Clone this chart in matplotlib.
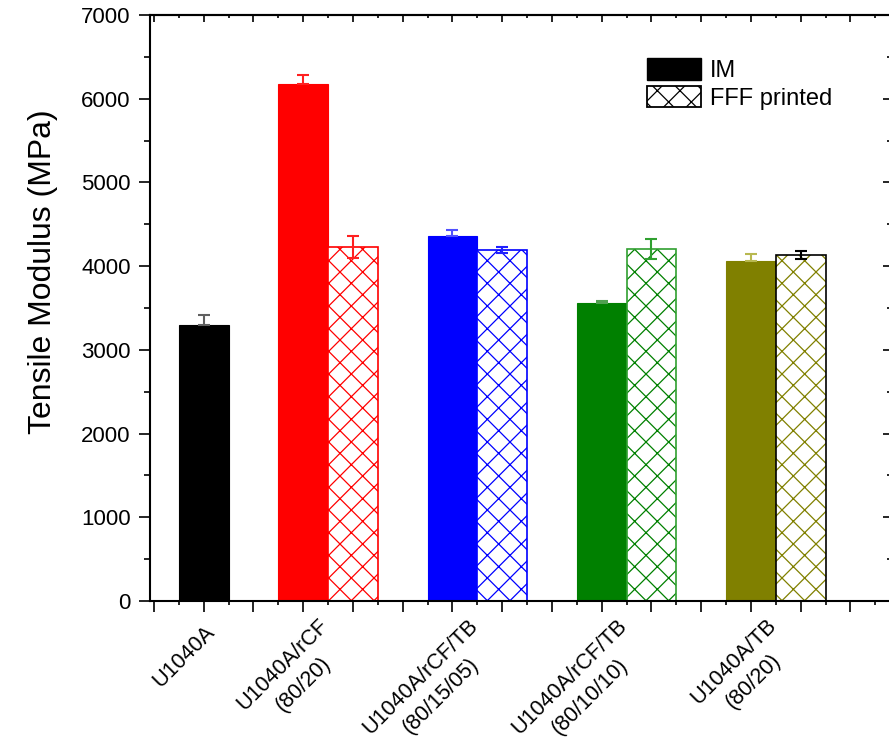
import matplotlib
matplotlib.use("Agg")
import matplotlib.pyplot as plt
import matplotlib.transforms as mtransforms
from matplotlib.patches import Patch
from matplotlib.font_manager import FontProperties
import numpy as np

# low dpi so the hatch pattern comes out as fine as in the original;
# every size below is given for 100 dpi and scaled by K
DPI = 68
K = 100 / DPI

plt.rcParams['font.family'] = ['Liberation Sans', 'DejaVu Sans']
plt.rcParams['hatch.linewidth'] = 0.9 * K

# data
groups = ['U1040A', 'U1040A/rCF\n(80/20)', 'U1040A/rCF/TB\n(80/15/05)',
          'U1040A/rCF/TB\n(80/10/10)', 'U1040A/TB\n(80/20)']
im_vals = [3300, 6175, 4355, 3560, 4065]
im_err = [115, 105, 75, 25, 85]
fff_vals = [np.nan, 4230, 4195, 4205, 4135]
fff_err = [np.nan, 130, 35, 120, 45]

colors = ['#000000', '#ff0000', '#0000ff', '#008000', '#808000']
im_err_colors = ['#606060', '#ff2020', '#5050ff', '#50a050', '#b8b850']
fff_err_colors = ['k', '#ff2020', '#2020ff', '#30a030', '#000000']
fff_edge = ['k', '#ff0000', '#0000ff', '#30a030', '#000000']

centers = [2, 7, 13, 19, 25]
bw = 2.0

fig = plt.figure(figsize=(889 / DPI, 744 / DPI), dpi=DPI)
ax = fig.add_axes([150 / 889, 1 - 601 / 744, 740.2 / 889, 586 / 744])

for i, c in enumerate(centers):
    x_im = c if i == 0 else c - 1
    ax.bar(x_im, im_vals[i], width=bw, color=colors[i], edgecolor=colors[i],
           linewidth=0.8 * K, zorder=2)
    ax.errorbar(x_im, im_vals[i], yerr=[[0], [im_err[i]]], fmt='none',
                ecolor=im_err_colors[i], elinewidth=1.5 * K, capsize=4 * K,
                capthick=1.5 * K, zorder=3)
    if not np.isnan(fff_vals[i]):
        x_f = c + 1
        ax.bar(x_f, fff_vals[i], width=bw, color='white', edgecolor=colors[i],
               hatch='x', linewidth=0, zorder=2)
        ax.bar(x_f, fff_vals[i], width=bw, fill=False, edgecolor=fff_edge[i],
               linewidth=1.2 * K, zorder=2)
        ax.errorbar(x_f, fff_vals[i], yerr=fff_err[i], fmt='none',
                    ecolor=fff_err_colors[i], elinewidth=1.5 * K, capsize=4 * K,
                    capthick=1.5 * K, zorder=3)

ax.set_xlim(-0.16, 29.6)
ax.set_ylim(0, 7000)

for s in ax.spines.values():
    s.set_linewidth(1.5 * K)

ax.set_yticks(np.arange(0, 7001, 1000))
ax.set_yticks(np.arange(500, 7000, 1000), minor=True)
ax.set_xticks(np.arange(0, 30, 2))
ax.set_xticks(np.arange(1, 30, 2), minor=True)
ax.set_xticklabels([])
ax.tick_params(axis='y', which='major', direction='out', length=8 * K,
               width=1.2 * K, labelsize=16 * K, pad=6 * K)
ax.tick_params(axis='y', which='minor', direction='out', length=4 * K,
               width=1.2 * K)
ax.tick_params(axis='x', which='major', direction='out', length=8 * K,
               width=1.2 * K)
ax.tick_params(axis='x', which='minor', direction='out', length=3 * K,
               width=1.2 * K)

top = ax.secondary_xaxis('top')
top.set_xticks(np.arange(0, 30, 2))
top.set_xticks(np.arange(1, 30, 2), minor=True)
top.set_xticklabels([])
top.tick_params(which='major', direction='in', length=5 * K, width=1.2 * K)
top.tick_params(which='minor', direction='in', length=2.5 * K, width=1.2 * K)
top.spines['top'].set_linewidth(1.5 * K)

right = ax.secondary_yaxis('right')
right.set_yticks(np.arange(0, 7001, 1000))
right.set_yticks(np.arange(500, 7000, 1000), minor=True)
right.set_yticklabels([])
right.tick_params(which='major', direction='in', length=5 * K, width=1.2 * K)
right.tick_params(which='minor', direction='in', length=2.5 * K, width=1.2 * K)

# category labels, rotated 45 deg; each line is its own text so that the
# second line can be centred under the first one
lab_size = 15.5 * K
prop = FontProperties(family=['Liberation Sans'], size=lab_size)
renderer = fig.canvas.get_renderer()
lh = 1.3 * lab_size * DPI / 72
d = np.array([np.cos(np.pi / 4), np.sin(np.pi / 4)])    # along text
dn = np.array([np.sin(np.pi / 4), -np.cos(np.pi / 4)])  # next line
trans = mtransforms.blended_transform_factory(ax.transData, ax.transAxes)
for c, lab in zip(centers, groups):
    lines = lab.split('\n')
    extra = len(lines) - 1
    base = np.array([0 - 10 * extra, -(21 - 7 * extra)], dtype=float)
    w0 = renderer.get_text_width_height_descent(lines[0], prop, ismath=False)[0]
    for k, line in enumerate(lines):
        wk = renderer.get_text_width_height_descent(line, prop, ismath=False)[0]
        pos = base - (w0 - wk) / 2 * d + k * lh * dn
        off = mtransforms.ScaledTranslation(pos[0] / DPI, pos[1] / DPI,
                                            fig.dpi_scale_trans)
        ax.text(c, 0, line, transform=trans + off, rotation=45, ha='right',
                va='top', rotation_mode='anchor', fontsize=lab_size)

ax.set_ylabel('Tensile Modulus (MPa)', fontsize=23 * K)
ax.yaxis.set_label_coords(-0.124, 0.562)

handles = [Patch(facecolor='black', edgecolor='black', linewidth=1 * K),
           Patch(facecolor='white', edgecolor='black', hatch='x',
                 linewidth=1.3 * K)]
ax.legend(handles, ['IM', 'FFF printed'], loc='upper left',
          bbox_to_anchor=((647 - 150) / 740.2, (601 - 58) / 586),
          frameon=False, fontsize=17 * K, handlelength=2.3, handleheight=1.05,
          handletextpad=0.35, labelspacing=0.15, borderpad=0, borderaxespad=0)

fig.savefig('out.png', dpi=DPI)
